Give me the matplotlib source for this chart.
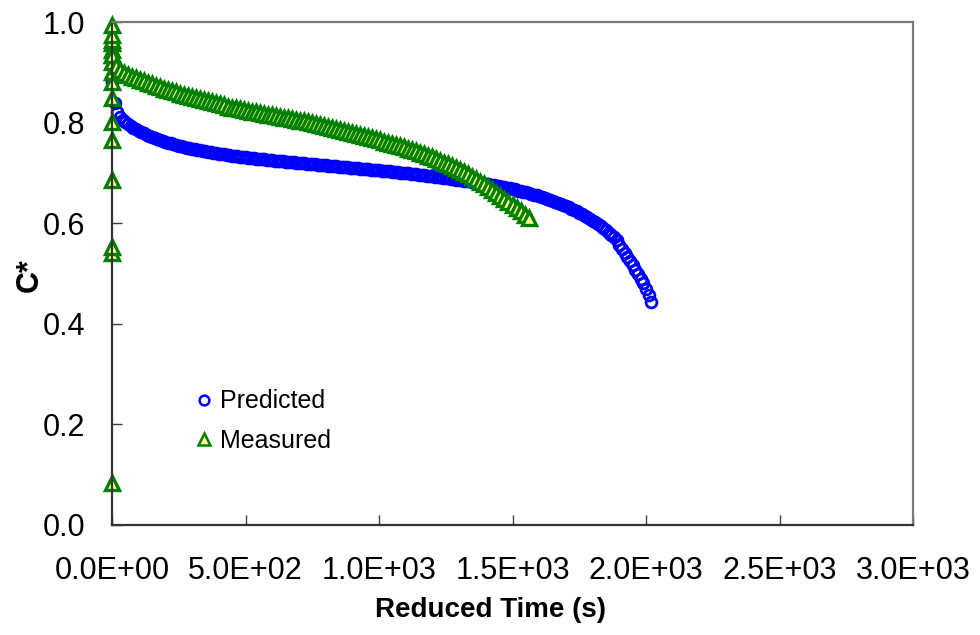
import matplotlib
matplotlib.use("Agg")
import matplotlib.pyplot as plt

plt.rcParams['font.family'] = ['Liberation Sans', 'DejaVu Sans']

# ---------------- data ----------------
# Predicted (blue circles), time step 10 s
pred_t = [i * 10 for i in range(203)]
pred_c = [
    0.880, 0.838, 0.822, 0.812, 0.806, 0.801, 0.797, 0.793, 0.790, 0.787,
    0.784, 0.781, 0.779, 0.776, 0.774, 0.772, 0.770, 0.768, 0.766, 0.764,
    0.762, 0.760, 0.759, 0.757, 0.756, 0.754, 0.753, 0.752, 0.750, 0.749,
    0.748, 0.747, 0.746, 0.745, 0.744, 0.743, 0.742, 0.741, 0.740, 0.739,
    0.738, 0.737, 0.737, 0.736, 0.735, 0.734, 0.734, 0.733, 0.732, 0.732,
    0.731, 0.730, 0.730, 0.729, 0.728, 0.728, 0.727, 0.727, 0.726, 0.726,
    0.725, 0.724, 0.724, 0.723, 0.723, 0.722, 0.722, 0.721, 0.721, 0.720,
    0.720, 0.719, 0.719, 0.718, 0.718, 0.717, 0.717, 0.716, 0.716, 0.715,
    0.715, 0.714, 0.714, 0.713, 0.713, 0.712, 0.712, 0.711, 0.711, 0.710,
    0.710, 0.709, 0.709, 0.708, 0.708, 0.707, 0.707, 0.706, 0.706, 0.705,
    0.705, 0.704, 0.704, 0.703, 0.703, 0.702, 0.702, 0.701, 0.700, 0.700,
    0.699, 0.699, 0.698, 0.697, 0.697, 0.696, 0.695, 0.695, 0.694, 0.693,
    0.693, 0.692, 0.691, 0.691, 0.690, 0.689, 0.689, 0.688, 0.687, 0.686,
    0.686, 0.685, 0.684, 0.683, 0.683, 0.682, 0.681, 0.680, 0.679, 0.678,
    0.677, 0.677, 0.676, 0.675, 0.674, 0.673, 0.672, 0.671, 0.670, 0.669,
    0.668, 0.667, 0.665, 0.664, 0.663, 0.662, 0.660, 0.659, 0.657, 0.656,
    0.654, 0.653, 0.651, 0.649, 0.647, 0.645, 0.643, 0.641, 0.639, 0.637,
    0.634, 0.632, 0.629, 0.627, 0.624, 0.621, 0.618, 0.615, 0.612, 0.609,
    0.605, 0.602, 0.598, 0.594, 0.590, 0.586, 0.581, 0.577, 0.572, 0.567,
    0.556, 0.549, 0.541, 0.533, 0.524, 0.516, 0.507, 0.499, 0.490, 0.481,
    0.470, 0.457, 0.443,
]

# Measured (green triangles), early readings at t ~ 0
meas_t0 = [0, 0, 0, 0, 0, 0, 0, 0, 0, 0, 0, 0, 0, 0, 0, 0]
meas_c0 = [0.083, 0.541, 0.553, 0.686, 0.765, 0.801, 0.849, 0.881,
           0.900, 0.920, 0.935, 0.945, 0.958, 0.964, 0.974, 0.994]

# Measured, time step 15 s
meas_t = [i * 15 for i in range(105)]
meas_c = [
    0.935, 0.913, 0.904, 0.899, 0.895, 0.891, 0.888, 0.885, 0.882, 0.879,
    0.876, 0.873, 0.870, 0.867, 0.865, 0.862, 0.860, 0.857, 0.855, 0.853,
    0.851, 0.848, 0.846, 0.844, 0.842, 0.840, 0.838, 0.836, 0.834, 0.832,
    0.830, 0.829, 0.827, 0.825, 0.824, 0.822, 0.821, 0.819, 0.818, 0.816,
    0.815, 0.813, 0.812, 0.810, 0.809, 0.807, 0.806, 0.804, 0.803, 0.801,
    0.799, 0.797, 0.795, 0.793, 0.791, 0.789, 0.787, 0.785, 0.783, 0.781,
    0.779, 0.777, 0.775, 0.773, 0.771, 0.769, 0.767, 0.765, 0.762, 0.760,
    0.758, 0.756, 0.753, 0.751, 0.748, 0.745, 0.743, 0.740, 0.737, 0.734,
    0.731, 0.727, 0.724, 0.720, 0.717, 0.713, 0.709, 0.705, 0.701, 0.697,
    0.692, 0.687, 0.682, 0.677, 0.672, 0.666, 0.661, 0.655, 0.649, 0.643,
    0.637, 0.630, 0.624, 0.617, 0.610,
]

x_ticks = [0, 500, 1000, 1500, 2000, 2500, 3000]
y_ticks = [0.0, 0.2, 0.4, 0.6, 0.8, 1.0]

# ---------------- figure ----------------
fig = plt.figure(figsize=(9.8, 6.35), dpi=100)
ax = fig.add_axes([112 / 980, 110 / 635, 801 / 980, 503 / 635])

ax.plot(pred_t, pred_c, linestyle='none', marker='o', ms=7.8,
        mfc='none', mec='#0000ff', mew=2.0, clip_on=False, label='Predicted')
ax.plot(meas_t0 + meas_t, meas_c0 + meas_c, linestyle='none', marker='^', ms=10.0,
        mfc='#ffff99', mec='#008000', mew=2.4, clip_on=False, label='Measured')

ax.set_xlim(0, 3000)
ax.set_ylim(0, 1.0)
ax.set_xticks(x_ticks)
ax.set_xticklabels(['{:.1E}'.format(v) for v in x_ticks])
ax.set_yticks(y_ticks)
ax.set_yticklabels(['{:.1f}'.format(v) for v in y_ticks])

ax.tick_params(axis='both', direction='in', length=7, width=1.0,
               color='#404040', labelsize=22, top=False, right=False)
ax.tick_params(axis='x', pad=22)
ax.tick_params(axis='y', pad=19)

for side in ['left', 'bottom']:
    ax.spines[side].set_color('#333333')
    ax.spines[side].set_linewidth(1.6)
for side in ['top', 'right']:
    ax.spines[side].set_color('#7a7a7a')
    ax.spines[side].set_linewidth(1.6)

ax.set_xlabel('Reduced Time (s)', fontsize=20, fontweight='bold')
ax.xaxis.set_label_coords((490 - 112) / 801, (525 - 610) / 503)
ax.xaxis.label.set_va('center')
ax.set_ylabel('C*', fontsize=22, fontweight='bold')
ax.yaxis.set_label_coords((30 - 112) / 801, (525 - 275) / 503)
ax.yaxis.label.set_va('center')

leg = ax.legend(loc='center left', bbox_to_anchor=((194 - 112) / 801, (525 - 421) / 503),
                frameon=False, fontsize=18, numpoints=1, handlelength=0.8,
                handletextpad=0.25, labelspacing=0.6, borderpad=0, borderaxespad=0)
leg.legend_handles[0].set_markersize(7)
leg.legend_handles[0].set_markeredgewidth(1.8)
leg.legend_handles[1].set_markersize(8.5)
leg.legend_handles[1].set_markeredgewidth(1.8)

fig.savefig('out.png', dpi=100, facecolor='white')
